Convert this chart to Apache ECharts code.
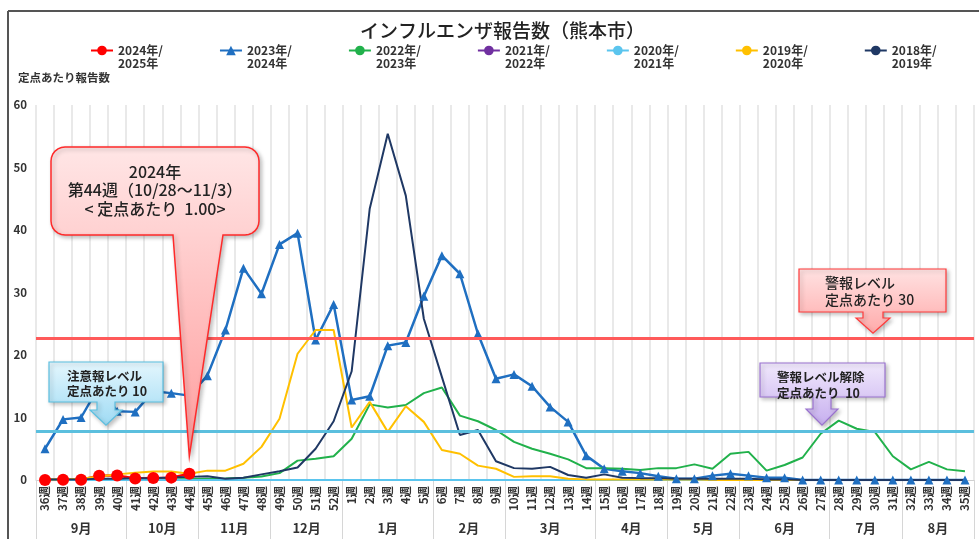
<!DOCTYPE html>
<html>
<head>
<meta charset="utf-8">
<script src="https://cdn.jsdelivr.net/npm/echarts@6/dist/echarts.min.js"></script>
<style>
html, body { margin: 0; padding: 0; background: #fff; }
#main { width: 979px; height: 539px; }
</style>
</head>
<body>
<div id="main"></div>
<script>
// 週（36週〜翌年35週）
const weeks = ['36週','37週','38週','39週','40週','41週','42週','43週','44週','45週','46週','47週','48週','49週','50週','51週','52週',
	'1週','2週','3週','4週','5週','6週','7週','8週','9週','10週','11週','12週','13週','14週','15週','16週','17週','18週',
	'19週','20週','21週','22週','23週','24週','25週','26週','27週','28週','29週','30週','31週','32週','33週','34週','35週'];

// 月ラベルと各月の週数
const months = ['9月','10月','11月','12月','1月','2月','3月','4月','5月','6月','7月','8月'];
const monthWeeks = [5, 4, 4, 4, 5, 4, 5, 4, 4, 5, 4, 4];

const yTicks = [0, 10, 20, 30, 40, 50, 60];

// 定点あたり報告数
const s2024 = [0.0, 0.03, 0.05, 0.7, 0.72, 0.25, 0.33, 0.38, 1.0];
const s2023 = [5.0, 9.7, 10.0, 15.0, 11.0, 10.9, 14.2, 13.9, 13.5, 16.7, 24.0, 33.9, 29.8, 37.7, 39.5, 22.4, 28.1,
	12.8, 13.4, 21.5, 22.0, 29.4, 35.9, 33.0, 23.4, 16.2, 16.9, 15.0, 11.7, 9.3, 3.9, 1.8, 1.4, 1.1, 0.6,
	0.2, 0.2, 0.7, 1.0, 0.7, 0.35, 0.35, 0, 0, 0, 0, 0, 0, 0, 0, 0, 0];
const s2022 = [0.1, 0.1, 0.1, 0.1, 0.1, 0.1, 0.1, 0.1, 0.15, 0.2, 0.25, 0.35, 0.55, 1.1, 3.1, 3.4, 3.8,
	6.6, 12.1, 11.6, 12.0, 13.9, 14.8, 10.3, 9.4, 8.0, 6.1, 5.0, 4.2, 3.3, 1.9, 1.9, 1.8, 1.6, 1.9,
	1.9, 2.5, 1.8, 4.2, 4.5, 1.5, 2.4, 3.6, 7.4, 9.5, 8.2, 7.7, 3.8, 1.7, 2.9, 1.7, 1.4];
const s2021 = [0, 0, 0, 0, 0, 0, 0, 0, 0, 0, 0, 0, 0, 0, 0, 0, 0,
	0, 0, 0, 0, 0, 0, 0, 0, 0, 0, 0, 0, 0, 0, 0, 0, 0, 0,
	0, 0, 0, 0, 0, 0, 0, 0, 0, 0, 0, 0, 0, 0, 0, 0, 0];
const s2020 = [0, 0, 0, 0, 0, 0, 0, 0, 0, 0, 0, 0, 0, 0, 0, 0, 0,
	0, 0, 0, 0, 0, 0, 0, 0, 0, 0, 0, 0, 0, 0, 0, 0, 0, 0,
	0, 0, 0, 0, 0, 0, 0, 0, 0, 0, 0, 0, 0, 0, 0, 0, 0];
const s2019 = [0.1, 0.1, 0.2, 0.55, 0.9, 1.15, 1.35, 1.35, 1.0, 1.5, 1.5, 2.6, 5.3, 9.8, 20.2, 24.0, 24.0,
	8.4, 12.5, 7.7, 11.8, 9.3, 4.8, 4.2, 2.3, 1.8, 0.5, 0.6, 0.6, 0.2, 0.1, 0.1, 0.1, 0.1, 0.1,
	0.1, 0.1, 0, 0, 0, 0, 0, 0, 0, 0, 0, 0, 0, 0, 0, 0, 0];
const s2018 = [0.1, 0.1, 0.1, 0.2, 0.2, 0.3, 0.3, 0.4, 0.5, 0.6, 0.2, 0.35, 0.9, 1.4, 2.0, 5.0, 9.4,
	17.4, 43.4, 55.4, 45.5, 25.8, 16.5, 7.2, 8.0, 3.0, 1.9, 1.8, 2.1, 0.8, 0.35, 0.9, 0.35, 0.3, 0.3,
	0.2, 0.2, 0.2, 0.2, 0.2, 0.1, 0.1, 0, 0, 0, 0, 0, 0, 0, 0, 0, 0];

// 警報・注意報ラインの位置
const warnLine = 22.7;
const cautionLine = 7.8;

const FONT = "'Noto Sans CJK JP', 'Noto Sans', sans-serif";

// 凡例用の細い線アイコン（上下に見えない点を置いて太さを保つ）
const LINE_ICON = 'path://M0,0 H22 V0.001 H0 Z M0,5 H22 V7 H0 Z M0,12 H22 V12.001 H0 Z';

// 月の境界と中心（週インデックス）
var monthTicks = [-0.5];
var monthCenters = [];
var monthByCenter = {};
var pos = 0;
for (var i = 0; i < months.length; i++) {
	var c = pos + (monthWeeks[i] - 1) / 2;
	monthCenters.push(c);
	monthByCenter[c] = months[i];
	pos += monthWeeks[i];
	monthTicks.push(pos - 0.5);
}

function lineSeries(name, data, color, extra) {
	var s = {
		name: name,
		type: 'line',
		data: data,
		symbol: 'none',
		legendIcon: LINE_ICON,
		itemStyle: { color: color },
		lineStyle: { color: color, width: 2 },
		silent: true
	};
	return Object.assign(s, extra || {});
}

var myChart = echarts.init(document.getElementById('main'));

var option = {
	animation: false,
	title: [{
		text: 'インフルエンザ報告数（熊本市）',
		left: 360,
		top: 21,
		padding: 0,
		textStyle: { fontFamily: FONT, fontSize: 19, fontWeight: 500, color: '#222' }
	}, {
		text: '定点あたり報告数',
		left: 18,
		top: 72,
		padding: 0,
		textStyle: { fontFamily: FONT, fontSize: 11.5, fontWeight: 'bold', color: '#333' }
	}],
	legend: {
		left: 90,
		top: 31,
		padding: 0,
		itemWidth: 22,
		itemHeight: 12,
		itemGap: 56,
		formatter: function (name) { return '\n' + name; },
		textStyle: { fontFamily: FONT, fontSize: 12, fontWeight: 'bold', color: '#333', lineHeight: 13 }
	},
	grid: { left: 36, right: 5, top: 105, bottom: 59, containLabel: false },
	xAxis: [{
		type: 'category',
		data: weeks,
		boundaryGap: true,
		axisLine: { lineStyle: { color: '#d0d0d0' } },
		axisTick: { show: false },
		splitLine: { show: true, lineStyle: { color: '#e2e2e2', width: 1.5 } },
		axisLabel: {
			interval: 0,
			rotate: 90,
			margin: 6,
			fontFamily: FONT,
			fontSize: 11.5,
			fontWeight: 'bold',
			color: '#333'
		}
	}, {
		type: 'value',
		min: -0.5,
		max: 51.5,
		position: 'bottom',
		axisLine: { show: false },
		splitLine: { show: false },
		axisTick: {
			show: true,
			customValues: monthTicks,
			length: 59,
			lineStyle: { color: '#d6d6d6', width: 1 }
		},
		axisLabel: {
			customValues: monthCenters,
			margin: 42,
			fontFamily: FONT,
			fontSize: 13,
			fontWeight: 'bold',
			color: '#333',
			formatter: function (v) { return monthByCenter[v] || ''; }
		}
	}],
	yAxis: {
		type: 'value',
		min: yTicks[0],
		max: yTicks[yTicks.length - 1],
		interval: 10,
		axisLine: { show: false },
		axisTick: { show: false },
		splitLine: { show: false },
		axisLabel: { margin: 9, fontFamily: FONT, fontSize: 11.5, fontWeight: 'bold', color: '#333' }
	},
	series: [
		lineSeries('2024年/\n2025年', s2024, '#ff0000', {
			symbol: 'circle',
			symbolSize: 12,
			showSymbol: true,
			legendIcon: 'inherit',
			lineStyle: { color: '#ff0000', width: 2.5 },
			markLine: {
				silent: true,
				symbol: 'none',
				label: { show: false },
				data: [
					{ yAxis: warnLine, lineStyle: { color: '#ff5a5a', width: 3, type: 'solid' } },
					{ yAxis: cautionLine, lineStyle: { color: '#5bbfde', width: 3, type: 'solid' } }
				]
			}
		}),
		lineSeries('2023年/\n2024年', s2023, '#1f6fc1', {
			symbol: 'triangle',
			symbolSize: 9,
			showSymbol: true,
			legendIcon: 'inherit',
			lineStyle: { color: '#1f6fc1', width: 2.5 }
		}),
		lineSeries('2022年/\n2023年', s2022, '#21b14b'),
		lineSeries('2021年/\n2022年', s2021, '#7030a0'),
		lineSeries('2020年/\n2021年', s2020, '#5bc5ee'),
		lineSeries('2019年/\n2020年', s2019, '#ffc000'),
		lineSeries('2018年/\n2019年', s2018, '#1f3864')
	]
};

myChart.setOption(option);

// ---- 吹き出し ----
function px(i, v) {
	return myChart.convertToPixel({ xAxisIndex: 0, yAxisIndex: 0 }, [i, v]);
}

function grad(c1, c2) {
	return {
		type: 'linear', x: 0, y: 0, x2: 0, y2: 1,
		colorStops: [{ offset: 0, color: c1 }, { offset: 1, color: c2 }]
	};
}

// 箱＋下向き矢印の頂点
function arrowBox(L, T, R, B, cx, sw, sb, hw, ty) {
	return [[L, T], [R, T], [R, B], [cx + sw, B], [cx + sw, sb], [cx + hw, sb], [cx, ty],
		[cx - hw, sb], [cx - sw, sb], [cx - sw, B], [L, B]];
}

// 角を丸めた箱＋細長い吹き出しの頂点
function corner(pts, cx, cy, r, a0) {
	for (var k = 0; k <= 6; k++) {
		var a = (a0 + k * 15) * Math.PI / 180;
		pts.push([cx + r * Math.cos(a), cy + r * Math.sin(a)]);
	}
}
function balloon(L, T, R, B, r, x1, x2, tx, ty) {
	var pts = [];
	corner(pts, R - r, T + r, r, -90);
	corner(pts, R - r, B - r, r, 0);
	pts.push([x2, B], [tx, ty], [x1, B]);
	corner(pts, L + r, B - r, r, 90);
	corner(pts, L + r, T + r, r, 180);
	return pts;
}

function txt(s, x, y, size, weight, align) {
	return {
		type: 'text', z: 110,
		style: {
			text: s, x: x, y: y, fill: '#222',
			fontFamily: FONT, fontSize: size, fontWeight: weight,
			align: align || 'left', verticalAlign: 'middle'
		}
	};
}

var shadow = { shadowBlur: 4, shadowOffsetX: 2, shadowOffsetY: 2, shadowColor: 'rgba(0,0,0,0.25)' };

var tip44 = px(8, 3.8);
var yWarn = px(0, warnLine)[1];
var yCaution = px(0, cautionLine)[1];

var graphics = [
	// 枠
	{ type: 'line', z: 120, shape: { x1: 8, y1: 11, x2: 979, y2: 11 }, style: { stroke: '#555', lineWidth: 2 } },
	{ type: 'line', z: 120, shape: { x1: 8, y1: 11, x2: 8, y2: 539 }, style: { stroke: '#555', lineWidth: 2 } },

	// 第44週の吹き出し
	{
		type: 'polygon', z: 100,
		shape: { points: balloon(51, 147, 259, 235, 14, 173, 223, tip44[0], tip44[1]) },
		style: Object.assign({ fill: grad('#ffe6e6', '#ff9c9c'), stroke: '#ff2a2a', lineWidth: 1.5 }, shadow)
	},
	txt('2024年', 155, 172, 16, 500, 'center'),
	txt('第44週（10/28～11/3）', 155, 190, 16, 500, 'center'),
	txt('< 定点あたり  1.00>', 155, 208.5, 16, 500, 'center'),

	// 注意報レベル
	{
		type: 'polygon', z: 100,
		shape: { points: arrowBox(49, 362, 163, 402, 106, 9, 410, 16, yCaution - 6) },
		style: Object.assign({ fill: grad('#e4f6fd', '#9edbf4'), stroke: '#5bbfe0', lineWidth: 1.2 }, shadow)
	},
	txt('注意報レベル', 67, 376, 12.5, 'bold'),
	txt('定点あたり 10', 67, 391, 12.5, 'bold'),

	// 警報レベル
	{
		type: 'polygon', z: 100,
		shape: { points: arrowBox(799, 269, 946, 312, 873, 10, 318, 17, yWarn - 5) },
		style: Object.assign({ fill: grad('#ffe2e2', '#ffaaaa'), stroke: '#ff3a3a', lineWidth: 1.2 }, shadow)
	},
	txt('警報レベル', 825, 283, 14, 500),
	txt('定点あたり 30', 825, 300, 14, 500),

	// 警報レベル解除
	{
		type: 'polygon', z: 100,
		shape: { points: arrowBox(760, 363, 885, 397, 822, 9, 409, 16, yCaution - 6) },
		style: Object.assign({ fill: grad('#f1e9fc', '#c6aeef'), stroke: '#9a72cf', lineWidth: 1.2 }, shadow)
	},
	txt('警報レベル解除', 777, 377, 12.5, 'bold'),
	txt('定点あたり  10', 777, 393, 12.5, 'bold')
];

myChart.setOption({ graphic: graphics });
</script>
</body>
</html>
